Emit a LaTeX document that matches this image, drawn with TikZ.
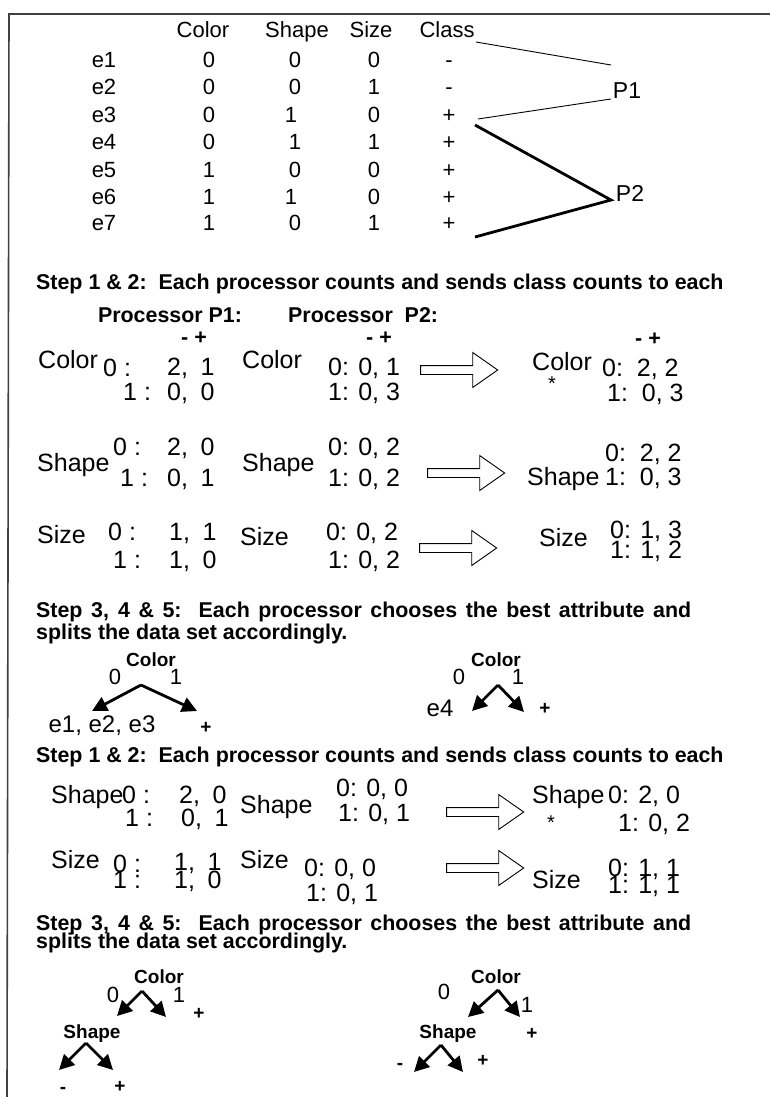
\documentclass[tikz,border=0pt]{standalone}
\usepackage{fontspec}
\setmainfont{Liberation Sans}
\usetikzlibrary{arrows.meta,positioning,shapes.arrows}

\begin{document}
\begin{tikzpicture}[
  x=1pt,y=-1pt,
  tabtext/.style={font=\fontsize{22}{24}\selectfont,inner sep=0pt,text height=15.8pt,text depth=0pt},
  cnttext/.style={font=\fontsize{25}{27}\selectfont,inner sep=0pt,text height=17.9pt,text depth=0pt,anchor=west},
  steptext/.style={font=\bfseries\fontsize{21.4}{24}\selectfont,inner sep=0pt,text height=15.3pt,text depth=0pt,anchor=west},
  treelbl/.style={font=\bfseries\fontsize{19}{21}\selectfont,inner sep=0pt,text height=13.6pt,text depth=0pt},
  treenum/.style={font=\fontsize{22}{24}\selectfont,inner sep=0pt,text height=15.8pt,text depth=0pt},
  leaf/.style={font=\fontsize{24}{26}\selectfont,inner sep=0pt,text height=17.2pt,text depth=0pt},
  startext/.style={font=\fontsize{20}{22}\selectfont,inner sep=0pt,anchor=base},
  branch/.style={-{Triangle[length=15pt,width=15pt]},line width=2.8pt},
  hollow/.style={single arrow,draw,fill=white,line width=0.9pt,inner sep=4pt,minimum height=77pt,
    single arrow head extend=13pt,single arrow tip angle=70},
]
\useasboundingbox (0,0) rectangle (770,1097);
\draw[line width=1.6pt,black!75] (770,14) -- (9,14) -- (7,1097);

% training set
\node[tabtext] (hColor) at (203,30) {Color};
\node[tabtext] (hShape) at (297,30) {Shape};
\node[tabtext] (hSize) at (371,30) {Size};
\node[tabtext] (hClass) at (447,30) {Class};
\node[tabtext] (e1) at (104,60) {e1}; \node[tabtext] (e1c) at (209,60) {0}; \node[tabtext] (e1s) at (295,60) {0}; \node[tabtext] (e1z) at (374,60) {0}; \node[tabtext] (e1k) at (449,60) {-};
\node[tabtext] (e2) at (104,87) {e2}; \node[tabtext] (e2c) at (209,87) {0}; \node[tabtext] (e2s) at (295,87) {0}; \node[tabtext] (e2z) at (374,87) {1}; \node[tabtext] (e2k) at (449,87) {-};
\node[tabtext] (e3) at (104,115) {e3}; \node[tabtext] (e3c) at (209,115) {0}; \node[tabtext] (e3s) at (291,115) {1}; \node[tabtext] (e3z) at (374,115) {0}; \node[tabtext] (e3k) at (449,115) {+};
\node[tabtext] (e4) at (104,142) {e4}; \node[tabtext] (e4c) at (209,142) {0}; \node[tabtext] (e4s) at (295,142) {1}; \node[tabtext] (e4z) at (374,142) {1}; \node[tabtext] (e4k) at (449,142) {+};
\node[tabtext] (e5) at (104,170) {e5}; \node[tabtext] (e5c) at (209,170) {1}; \node[tabtext] (e5s) at (295,170) {0}; \node[tabtext] (e5z) at (374,170) {0}; \node[tabtext] (e5k) at (449,170) {+};
\node[tabtext] (e6) at (104,197) {e6}; \node[tabtext] (e6c) at (209,197) {1}; \node[tabtext] (e6s) at (291,197) {1}; \node[tabtext] (e6z) at (374,197) {0}; \node[tabtext] (e6k) at (449,197) {+};
\node[tabtext] (e7) at (104,223) {e7}; \node[tabtext] (e7c) at (209,223) {1}; \node[tabtext] (e7s) at (295,223) {0}; \node[tabtext] (e7z) at (374,223) {1}; \node[tabtext] (e7k) at (449,223) {+};

\node[font=\fontsize{23}{25}\selectfont,inner sep=0pt,text height=16.5pt,text depth=0pt] (P1) at (627,90) {P1};
\node[font=\fontsize{23}{25}\selectfont,inner sep=0pt,text height=16.5pt,text depth=0pt] (P2) at (630,193) {P2};
\coordinate (kA) at (476,42);
\coordinate (kB) at (478,119);
\coordinate (kC) at (475,125);
\coordinate (kD) at (475,237);
\coordinate (P1in) at (611,65);
\coordinate (P1out) at (611,99);
\coordinate (P2v) at (611,200);
\draw[line width=0.9pt] (kA) -- (P1in);
\draw[line width=0.9pt] (kB) -- (P1out);
\draw[line width=2.8pt] (kC) -- (P2v) -- (kD);

% first round of counts
\node[steptext] (stepA) at (36,282) {Step 1 \& 2:\ \ Each processor counts and sends class counts to each};
\node[steptext,anchor=center] (procA) at (170,315) {Processor P1:};
\node[steptext] (procB) at (288,315) {Processor\ \ P2:};
\node[steptext,anchor=center] (signA) at (194,337) {- +};
\node[steptext,anchor=center] (signB) at (379,337) {- +};
\node[steptext,anchor=center] (signC) at (648,338) {- +};

\node[cnttext] (colA) at (38,360) {Color};
\node[cnttext] (colA0) at (103,368) {0 :};
\node[cnttext] (colAv0) at (167,367) {2,\enspace1};
\node[cnttext] (colA1) at (123,392) {1 :};
\node[cnttext] (colAv1) at (167,392) {0,\enspace0};
\node[cnttext] (colB) at (242,360) {Color};
\node[cnttext] (colB0) at (328,367) {0: 0, 1};
\node[cnttext] (colB1) at (328,392) {1: 0, 3};
\node[hollow] (arrA) at (456,370) {};
\node[cnttext] (colC) at (532,362) {Color};
\node[startext] (starA) at (552,390) {*};
\node[cnttext] (colC0) at (602,368) {0:\ \ 2, 2};
\node[cnttext] (colC1) at (607,393) {1:\ \ 0, 3};

\node[cnttext] (shpA) at (37,463) {Shape};
\node[cnttext] (shpA0) at (113,447) {0 :};
\node[cnttext] (shpAv0) at (167,447) {2,\enspace0};
\node[cnttext] (shpA1) at (120,478) {1 :};
\node[cnttext] (shpAv1) at (167,478) {0,\enspace1};
\node[cnttext] (shpB) at (242,463) {Shape};
\node[cnttext] (shpB0) at (328,447) {0: 0, 2};
\node[cnttext] (shpB1) at (328,478) {1: 0, 2};
\node[hollow] (arrB) at (463,473) {};
\node[cnttext] (shpC0) at (605,453) {0:\ \ 2, 2};
\node[cnttext] (shpC) at (527,477) {Shape};
\node[cnttext] (shpC1) at (605,477) {1:\ \ 0, 3};

\node[cnttext] (sizA) at (37,535) {Size};
\node[cnttext] (sizA0) at (108,532) {0 :};
\node[cnttext] (sizAv0) at (169,532) {1,\enspace1};
\node[cnttext] (sizA1) at (113,560) {1 :};
\node[cnttext] (sizAv1) at (169,560) {1,\enspace0};
\node[cnttext] (sizB) at (240,537) {Size};
\node[cnttext] (sizB0) at (326,532) {0: 0, 2};
\node[cnttext] (sizB1) at (328,560) {1: 0, 2};
\node[hollow] (arrC) at (455,548) {};
\node[cnttext] (sizC) at (539,538) {Size};
\node[cnttext] (sizC0) at (610,530) {0: 1, 3};
\node[cnttext] (sizC1) at (610,550) {1: 1, 2};

\node[steptext] (stepB) at (36,610) {\makebox[655pt][s]{Step 3, 4 \& 5:\ \ Each processor chooses the best attribute and}};
\node[steptext] (stepBb) at (36,632) {splits the data set accordingly.};

% first split
\node[treelbl] (treeA) at (151,660) {Color};
\node[treenum] (treeA0) at (115,677) {0};
\node[treenum] (treeA1) at (176,677) {1};
\coordinate (treeAtop) at (141,685);
\coordinate (treeAl) at (92,711);
\coordinate (treeAr) at (197,711);
\draw[branch] (treeAtop) -- (treeAl);
\draw[branch] (treeAtop) -- (treeAr);
\node[leaf] (leafA) at (102,724) {e1, e2, e3};
\node[treelbl] (leafAp) at (206,727) {+};

\node[treelbl] (treeB) at (496,660) {Color};
\node[treenum] (treeB0) at (459,677) {0};
\node[treenum] (treeB1) at (518,677) {1};
\coordinate (treeBtop) at (498,685);
\coordinate (treeBl) at (472,711);
\coordinate (treeBr) at (524,712);
\draw[branch] (treeBtop) -- (treeBl);
\draw[branch] (treeBtop) -- (treeBr);
\node[leaf] (leafB) at (440,708) {e4};
\node[treelbl] (leafBp) at (545,708) {+};

% second round of counts
\node[steptext] (stepC) at (36,755) {Step 1 \& 2:\ \ Each processor counts and sends class counts to each};
\node[cnttext] (shpD) at (51,795) {Shape};
\node[cnttext] (shpD0) at (122,795) {0 :};
\node[cnttext] (shpDv0) at (179,795) {2,\enspace0};
\node[cnttext] (shpD1) at (125,818) {1 :};
\node[cnttext] (shpDv1) at (181,818) {0,\enspace1};
\node[cnttext] (shpE) at (240,805) {Shape};
\node[cnttext] (shpE0) at (336,788) {0: 0, 0};
\node[cnttext] (shpE1) at (338,813) {1: 0, 1};
\node[hollow] (arrD) at (482,812) {};
\node[cnttext] (shpF) at (532,795) {Shape};
\node[cnttext] (shpF0) at (608,795) {0: 2, 0};
\node[startext] (starB) at (551,829) {*};
\node[cnttext] (shpF1) at (618,823) {1: 0, 2};

\node[cnttext] (sizD) at (51,860) {Size};
\node[cnttext] (sizD0) at (113,864) {0 :};
\node[cnttext] (sizDv0) at (174,862) {1,\enspace1};
\node[cnttext] (sizD1) at (113,880) {1 :};
\node[cnttext] (sizDv1) at (174,880) {1,\enspace0};
\node[cnttext] (sizE) at (240,860) {Size};
\node[cnttext] (sizE0) at (304,868) {0: 0, 0};
\node[cnttext] (sizE1) at (306,893) {1: 0, 1};
\node[hollow] (arrE) at (482,868) {};
\node[cnttext] (sizF) at (532,880) {Size};
\node[cnttext] (sizF0) at (608,868) {0: 1, 1};
\node[cnttext] (sizF1) at (608,885) {1: 1, 1};

\node[steptext] (stepD) at (36,923) {\makebox[655pt][s]{Step 3, 4 \& 5:\ \ Each processor chooses the best attribute and}};
\node[steptext] (stepDb) at (36,941) {splits the data set accordingly.};

% second split
\node[treelbl] (treeC) at (159,977) {Color};
\node[treenum] (treeC0) at (113,995) {0};
\node[treenum] (treeC1) at (179,995) {1};
\coordinate (treeCtop) at (142,991);
\coordinate (treeCl) at (117,1016);
\coordinate (treeCr) at (166,1017);
\draw[branch] (treeCtop) -- (treeCl);
\draw[branch] (treeCtop) -- (treeCr);
\node[treelbl] (treeCp) at (199,1013) {+};
\node[treelbl] (shpG) at (92,1032) {Shape};
\coordinate (shpGtop) at (86,1043);
\coordinate (shpGl) at (59,1070);
\coordinate (shpGr) at (113,1070);
\draw[branch] (shpGtop) -- (shpGl);
\draw[branch] (shpGtop) -- (shpGr);
\node[treelbl] (shpGm) at (63,1087) {-};
\node[treelbl] (shpGp) at (120,1086) {+};

\node[treelbl] (treeD) at (496,977) {Color};
\node[treenum] (treeD0) at (444,992) {0};
\node[treenum] (treeD1) at (527,1005) {1};
\coordinate (treeDtop) at (498,990);
\coordinate (treeDl) at (468,1017);
\coordinate (treeDr) at (520,1017);
\draw[branch] (treeDtop) -- (treeDl);
\draw[branch] (treeDtop) -- (treeDr);
\node[treelbl] (shpH) at (448,1032) {Shape};
\node[treelbl] (treeDp) at (532,1033) {+};
\coordinate (shpHtop) at (441,1045);
\coordinate (shpHl) at (414,1072);
\coordinate (shpHr) at (463,1072);
\draw[branch] (shpHtop) -- (shpHl);
\draw[branch] (shpHtop) -- (shpHr);
\node[treelbl] (shpHm) at (400,1063) {-};
\node[treelbl] (shpHp) at (483,1060) {+};
\end{tikzpicture}
\end{document}
